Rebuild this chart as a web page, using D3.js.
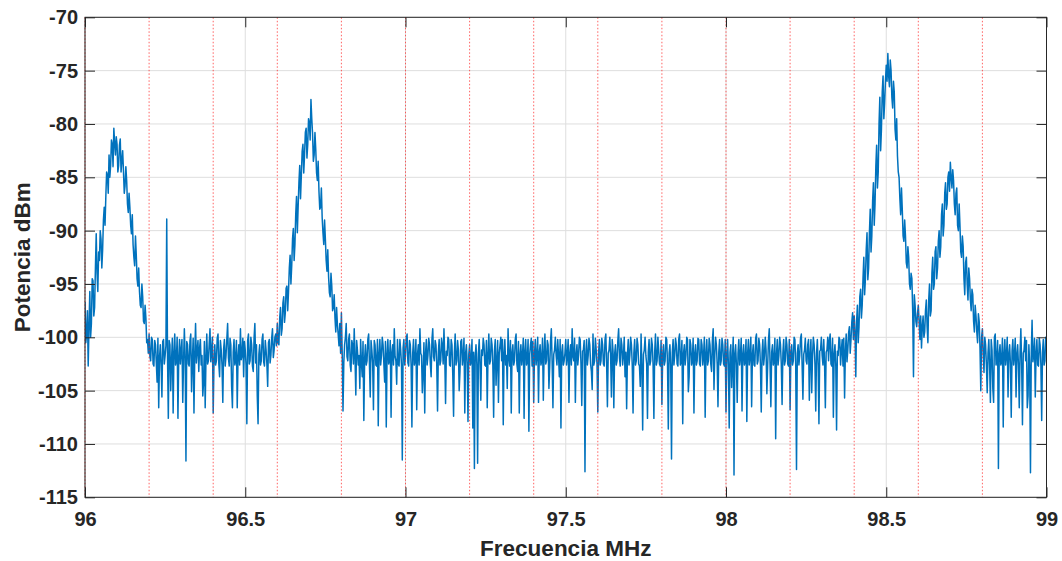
<!DOCTYPE html>
<html><head><meta charset="utf-8">
<script src="https://cdn.jsdelivr.net/npm/d3@7"></script>
<style>body{margin:0;background:#fff}svg{display:block}</style>
</head><body><svg id="chart" width="1062" height="561"></svg>
<script>
// ---- data ----
const freqStartMHz = 96;
const freqStepMHz = 0.005;
// samples at 96.000, 96.005, ... 99.000 MHz
const powerDbm = [
 -96.7,-99.7,-102.7,-95.7,-98.7,-94.7,-97.2,-90.3,-95.7,-92.8,-90.8,-91.8,-87.8,-86.8,-84.8,-82.9,-83.9,-81.9,-80.4,-82.9,
 -81.9,-83.9,-81.4,-83.4,-84.4,-85.8,-85.3,-88.3,-87.8,-90.3,-91.3,-93.3,-92.3,-95.2,-95.7,-97.2,-96.2,-98.7,-98.2,-100.2,
 -99.7,-102.2,-100.2,-102.7,-100.7,-104.2,-106.6,-100.7,-105.6,-100.2,-101.7,-88.9,-107.6,-100.7,-102.2,-107.1,-99.7,-102.2,-107.6,-100.2,
 -101.2,-106.1,-99.2,-111.6,-100.7,-102.7,-99.7,-102.2,-107.1,-98.7,-101.2,-103.2,-100.2,-101.7,-104.2,-106.6,-99.7,-102.2,-99.2,-101.2,
 -107.1,-100.7,-102.2,-99.7,-103.7,-101.2,-106.1,-100.2,-101.7,-98.7,-102.7,-100.7,-106.6,-100.2,-102.2,-106.6,-100.7,-99.2,-101.7,-103.7,
 -101.2,-108.1,-99.7,-102.2,-100.7,-103.2,-98.7,-100.7,-108.1,-100.7,-102.2,-99.7,-102.7,-101.2,-104.6,-100.2,-101.7,-99.2,-101.2,-99.7,
 -98.7,-100.7,-97.2,-99.2,-96.2,-97.7,-95.2,-95.7,-92.3,-93.3,-89.8,-91.3,-86.8,-87.8,-83.9,-84.8,-81.9,-82.9,-80.4,-81.9,
 -79.9,-77.7,-80.9,-82.9,-82.4,-85.3,-86.3,-87.8,-88.8,-91.3,-90.8,-93.8,-94.3,-96.2,-95.2,-97.2,-98.2,-97.2,-99.7,-98.7,
 -97.7,-106.9,-100.7,-98.7,-102.2,-99.7,-103.2,-100.7,-99.2,-105.4,-101.2,-101.7,-100.2,-103.7,-107.8,-100.7,-102.2,-99.7,-105.6,-101.2,
 -106.8,-100.7,-102.7,-108.3,-100.2,-101.7,-100.7,-104.2,-108.4,-100.2,-102.2,-107.5,-100.7,-99.2,-102.2,-100.2,-102.7,-101.2,-111.5,-100.2,
 -101.7,-99.7,-102.7,-100.7,-108.4,-100.2,-102.2,-106.8,-100.7,-99.2,-101.7,-103.2,-107.1,-100.2,-101.7,-100.7,-103.7,-99.2,-102.2,-100.7,
 -106.9,-100.2,-102.2,-100.7,-99.2,-106.2,-101.7,-100.2,-102.7,-100.7,-107.4,-99.7,-102.2,-101.2,-103.2,-100.2,-101.7,-107.1,-100.7,-107.9,
 -100.7,-102.2,-108.5,-112.3,-100.7,-111.8,-100.2,-105.9,-101.7,-100.7,-102.7,-106.6,-99.7,-102.2,-100.7,-107.5,-100.2,-102.2,-106.1,-100.7,
 -102.2,-108.2,-100.2,-101.7,-99.2,-102.7,-107.1,-100.7,-102.2,-99.7,-103.2,-107.1,-100.7,-101.7,-107.6,-100.2,-102.2,-108.8,-100.7,-102.7,
 -106.1,-100.2,-101.7,-106.1,-100.7,-102.2,-105.9,-99.7,-102.2,-100.7,-102.7,-99.2,-106.6,-101.2,-101.7,-100.2,-103.7,-108.5,-100.7,-102.2,
 -100.2,-101.7,-106.1,-100.7,-99.2,-102.2,-106.1,-100.7,-101.7,-100.2,-106.4,-101.2,-112.6,-100.2,-101.7,-100.7,-103.2,-99.7,-102.2,-101.2,
 -107.0,-100.2,-102.2,-100.7,-102.7,-99.7,-106.5,-101.2,-101.7,-100.2,-106.6,-100.7,-102.2,-99.2,-102.7,-100.7,-101.7,-103.7,-106.7,-100.2,
 -101.7,-100.7,-107.1,-100.2,-102.2,-100.7,-102.7,-99.7,-108.7,-101.2,-101.7,-107.6,-100.2,-102.2,-100.7,-107.6,-99.7,-102.2,-101.2,-102.7,
 -106.3,-100.7,-102.2,-100.2,-108.6,-100.7,-111.4,-100.2,-101.7,-100.7,-102.7,-99.7,-102.2,-108.1,-100.7,-101.7,-100.2,-103.7,-100.7,-102.2,
 -107.1,-100.7,-102.2,-100.2,-102.7,-100.7,-101.7,-107.5,-100.2,-102.2,-100.7,-103.2,-99.2,-101.7,-100.7,-106.5,-100.2,-102.2,-100.7,-102.7,
 -107.0,-100.2,-108.5,-100.7,-102.2,-112.9,-100.7,-106.1,-100.2,-101.7,-106.9,-100.7,-102.2,-107.9,-100.2,-101.7,-106.5,-100.7,-102.7,-99.7,
 -102.2,-100.7,-107.0,-100.2,-101.7,-101.2,-102.7,-99.2,-106.5,-100.7,-102.2,-109.5,-100.2,-101.7,-100.7,-106.3,-100.2,-102.2,-100.7,-102.7,
 -106.8,-100.7,-102.2,-100.2,-112.4,-100.7,-101.7,-99.7,-105.8,-101.2,-102.2,-100.7,-105.9,-100.2,-101.7,-100.7,-106.9,-100.2,-108.1,-101.2,
 -101.7,-100.2,-106.6,-101.2,-102.2,-99.7,-102.7,-107.5,-100.7,-108.7,-101.7,-100.2,-101.2,-102.7,-105.7,-99.7,-101.2,-99.0,-100.2,-97.7,
 -98,-103.7,-97,-99,-95.5,-97,-92.5,-94.5,-90.2,-93.5,-88,-90.5,-85.5,-87.5,-82,-84.5,-77.5,-80.5,-75.5,-78,
 -74.5,-73.4,-76.5,-75,-78.5,-77,-81.5,-83,-85,-88.5,-88,-91,-90.5,-93.5,-92.5,-95.5,-94.5,-103.7,-97,-99,
 -97,-100.2,-101,-98,-99.5,-96.5,-100.5,-95,-97.5,-92.5,-95,-91.5,-93.5,-90,-91.5,-87.5,-89.5,-85.5,-87.5,-84.5,
 -83.6,-86,-85.3,-88.5,-86,-90,-89.5,-92.5,-91.5,-96,-92.5,-96.5,-94.5,-97.5,-96,-99.5,-98,-100.5,-98.5,-105,
 -99.2,-103.3,-100.7,-105.2,-100.2,-106.1,-101.2,-106.1,-99.7,-102.2,-112.3,-100.7,-102.2,-108.4,-100.2,-101.7,-105.6,-100.7,-107.5,-100.2,
 -101.7,-105.6,-100.7,-106.6,-99.2,-108.2,-101.2,-102.2,-106.6,-100.7,-112.7,-98.4,-101.7,-105.6,-100.2,-102.7,-100.7,-107.8,-100.2,-102.2,
 -101.2
];
// samples at 96.0025, 96.0075, ... 98.9975 MHz (between the ones above)
const powerDbmOffset = [
 -100.5,-97.5,-99,-100,-94.5,-98,-93.5,-94,-92,-90,-93.5,-89,-89.5,-84.5,-86.5,-85,-81.5,-84,-81.8,-81.2,
 -84.5,-82,-84.5,-82.5,-86.5,-84,-87.5,-86.5,-89.5,-88.5,-92.5,-90.5,-94.5,-93.5,-97,-95,-98.5,-97,-100.5,-101.5,
 -101.8,-100.0,-102.5,-100.3,-102.4,-100.1,-101.9,-102.6,-100.4,-102.5,-100.8,-101.9,-100.3,-105.0,-100.1,-101.5,-102.6,-100.0,-101.9,-102.5,
 -100.2,-102.3,-101.8,-100.4,-102.5,-100.3,-105.1,-100.1,-101.6,-102.4,-100.3,-101.0,-102.6,-105.5,-100.4,-101.9,-102.5,-100.6,-102.3,-100.0,
 -102.2,-102.6,-100.1,-102.5,-100.3,-102.6,-101.1,-102.7,-100.2,-101.9,-100.1,-104.6,-101.4,-102.6,-100.3,-101.8,-102.6,-102.1,-100.1,-100.4,
 -102.6,-100.3,-102.5,-100.0,-102.7,-100.1,-102.4,-105.5,-101.6,-102.6,-100.2,-102.3,-100.3,-102.5,-100.5,-102.4,-100.1,-101.9,-100.0,-100.8,
 -100.5,-98.2,-99.8,-96.8,-98.6,-95.4,-97.5,-93.5,-95.0,-90.8,-92.8,-88.5,-90.2,-85.5,-87.0,-82.6,-84.6,-80.8,-83.2,-79.5,
 -81.5,-79.5,-83.5,-80.8,-84.6,-83.5,-88.0,-86.0,-90.2,-89.0,-92.8,-91.8,-95.8,-94.0,-97.5,-96.0,-99.5,-98.8,-100.8,-101.5,
 -101.5,-102.4,-100.0,-101.8,-100.2,-102.6,-100.3,-102.5,-101.9,-100.3,-102.6,-104.8,-102.4,-100.4,-102.0,-102.6,-100.2,-102.5,-100.3,-102.4,
 -100.3,-102.6,-100.2,-101.5,-102.6,-100.0,-102.5,-100.4,-101.6,-102.5,-100.3,-101.4,-102.6,-101.8,-104.4,-102.5,-100.2,-102.6,-101.0,-102.6,
 -100.1,-102.4,-100.3,-102.6,-101.5,-102.6,-100.2,-101.6,-102.6,-101.5,-105.2,-100.5,-101.5,-102.6,-100.1,-102.5,-100.2,-101.8,-100.3,-102.5,
 -101.4,-102.6,-100.1,-102.5,-101.8,-101.3,-100.0,-102.6,-100.2,-103.5,-101.5,-102.6,-100.3,-105.0,-100.4,-102.6,-100.1,-101.5,-102.4,-101.6,
 -102.6,-100.2,-101.4,-101.8,-102.5,-101.5,-102.6,-101.2,-100.1,-102.6,-100.3,-101.6,-102.5,-100.1,-102.6,-101.3,-104.5,-100.3,-101.5,-100.0,
 -100.2,-101.5,-102.6,-104.8,-101.9,-100.3,-101.4,-102.6,-100.2,-102.5,-100.4,-101.6,-102.6,-100.1,-101.3,-102.6,-100.2,-101.6,-100.1,-100.4,
 -101.6,-102.6,-100.0,-101.4,-102.6,-100.1,-101.5,-102.5,-100.3,-104.8,-100.4,-102.3,-101.6,-100.0,-102.6,-101.7,-100.2,-101.4,-102.6,-101.5,
 -102.6,-100.2,-101.5,-102.6,-101.8,-100.1,-101.6,-102.6,-100.0,-102.5,-101.3,-100.3,-101.6,-102.6,-100.1,-102.5,-104.9,-102.6,-100.1,-102.5,
 -101.4,-102.6,-100.1,-102.5,-100.2,-102.4,-101.5,-100.0,-105.6,-101.3,-101.6,-102.6,-100.3,-101.9,-100.1,-102.6,-100.0,-101.4,-101.6,-102.6,
 -100.0,-102.6,-101.5,-102.6,-100.1,-102.5,-104.6,-102.6,-101.6,-100.0,-102.5,-101.4,-102.6,-100.1,-102.6,-101.4,-102.6,-100.0,-102.5,-100.3,
 -101.6,-102.6,-100.0,-102.5,-101.5,-102.6,-101.4,-102.6,-100.1,-102.5,-100.2,-102.6,-100.3,-101.5,-102.6,-100.0,-105.1,-100.2,-102.6,-100.1,
 -101.5,-102.6,-100.1,-102.5,-100.2,-102.6,-100.0,-101.5,-102.6,-100.1,-102.5,-100.3,-104.9,-100.0,-102.5,-101.4,-102.6,-100.1,-102.5,-100.2,
 -101.6,-102.6,-101.4,-104.7,-100.0,-101.5,-102.6,-101.5,-102.6,-100.1,-101.6,-102.6,-100.2,-101.5,-102.6,-100.0,-101.6,-102.6,-100.1,-102.5,
 -100.1,-102.6,-101.5,-102.6,-100.0,-105.3,-100.3,-102.6,-101.4,-102.6,-100.1,-101.6,-102.6,-100.0,-102.5,-101.5,-102.6,-100.0,-102.5,-100.2,
 -101.4,-102.6,-100.0,-102.6,-101.5,-102.6,-100.1,-102.6,-101.6,-100.1,-102.5,-100.2,-101.6,-105.2,-100.0,-102.5,-101.5,-102.6,-101.3,-100.0,
 -102.6,-102.4,-101.4,-100.0,-100.3,-102.5,-100.1,-101.6,-102.6,-101.3,-100.0,-102.6,-100.2,-100.1,-101.4,-102.3,-99.6,-101.5,-98.6,-100.2,
 -99.5,-98.5,-100.5,-96.2,-98.2,-94.5,-96.0,-91.8,-94.6,-90.2,-92.0,-87.2,-89.5,-84.0,-86.0,-80.0,-82.5,-77.0,-79.5,-76.0,
 -76.0,-75.5,-74.0,-77.5,-76.0,-80.5,-79.5,-84.5,-87.0,-86.0,-90.5,-89.0,-93.0,-91.5,-95.0,-94.0,-97.5,-96.0,-98.5,-97.8,
 -98.5,-98.0,-99.0,-100.0,-97.5,-99.0,-96.5,-98.0,-94.0,-95.5,-92.0,-94.5,-91.0,-92.5,-88.5,-90.5,-86.5,-88.0,-85.0,-86.3,
 -85.0,-84.3,-87.5,-86.5,-89.5,-87.5,-92.0,-90.5,-94.5,-93.0,-95.0,-93.5,-96.5,-95.5,-98.5,-97.0,-99.5,-97.8,-101.0,-100.0,
 -101.5,-100.0,-102.6,-101.5,-102.6,-100.2,-104.8,-100.0,-102.6,-100.3,-101.5,-102.6,-100.1,-101.5,-102.6,-100.0,-101.6,-102.5,-101.3,-102.6,
 -100.1,-101.6,-102.6,-101.4,-102.5,-101.5,-100.0,-100.3,-105.5,-102.6,-101.5,-102.3,-100.1,-101.5,-102.6,-100.1,-102.6,-101.4,-102.6,-100.0
];
const xTickValues = [96, 96.5, 97, 97.5, 98, 98.5, 99];
const yTickValues = [-115, -110, -105, -100, -95, -90, -85, -80, -75, -70];
const markerFreqs = [96, 96.2, 96.4, 96.6, 96.8, 97, 97.2, 97.4, 97.6, 97.8, 98, 98.2, 98.4, 98.6, 98.8];
const xLabelText = "Frecuencia MHz";
const yLabelText = "Potencia dBm";

// ---- layout ----
const plot = {left: 85, right: 1046.5, top: 17.3, bottom: 497.3};
const ink = "#262626";
const fontFamily = "'Liberation Sans', Arial, Helvetica, sans-serif";
const svg = d3.select("#chart");

const x = d3.scaleLinear().domain([96, 99]).range([plot.left, plot.right]);
const y = d3.scaleLinear().domain([-115, -70]).range([plot.bottom, plot.top]);

// grid
const grid = svg.append("g");
grid.selectAll("line.gx").data(xTickValues).join("line").attr("class", "gx")
  .attr("x1", d => x(d)).attr("x2", d => x(d)).attr("y1", plot.top).attr("y2", plot.bottom)
  .attr("stroke", "#dedede").attr("stroke-width", 1);
grid.selectAll("line.gy").data(yTickValues).join("line").attr("class", "gy")
  .attr("y1", d => y(d)).attr("y2", d => y(d)).attr("x1", plot.left).attr("x2", plot.right)
  .attr("stroke", "#dedede").attr("stroke-width", 1);

// clip
svg.append("clipPath").attr("id", "plotclip").append("rect")
  .attr("x", plot.left).attr("y", plot.top)
  .attr("width", plot.right - plot.left).attr("height", plot.bottom - plot.top);

// spectrum trace: merge both sample sets in frequency order
const points = [];
powerDbm.forEach((v, i) => {
  points.push({f: freqStartMHz + i * freqStepMHz, v});
  if (i < powerDbmOffset.length)
    points.push({f: freqStartMHz + (i + 0.5) * freqStepMHz, v: powerDbmOffset[i]});
});
points.sort((a, b) => a.f - b.f);
svg.append("path").datum(points)
  .attr("clip-path", "url(#plotclip)")
  .attr("fill", "none").attr("stroke", "#0072BD").attr("stroke-width", 1.5)
  .attr("stroke-linejoin", "round")
  .attr("d", d3.line().x(d => x(d.f)).y(d => y(d.v)));

// red dotted channel markers
svg.append("g").selectAll("line").data(markerFreqs).join("line")
  .attr("x1", d => x(d)).attr("x2", d => x(d)).attr("y1", plot.top).attr("y2", plot.bottom)
  .attr("stroke", "#ff2020").attr("stroke-opacity", 0.7).attr("stroke-width", 1)
  .attr("stroke-dasharray", "1.5,2");

// axes
function styleAxis(g) {
  g.select(".domain").remove();
  g.selectAll(".tick line").attr("stroke", ink).attr("stroke-width", 1);
  g.selectAll(".tick text").attr("fill", ink)
    .style("font-family", fontFamily).style("font-weight", "bold").style("font-size", "20px");
}
svg.append("g").attr("transform", `translate(0,${plot.bottom})`)
  .call(d3.axisBottom(x).tickValues(xTickValues).tickSizeInner(-10).tickSizeOuter(0)
        .tickPadding(15).tickFormat(d => String(d)))
  .call(styleAxis);
svg.append("g").attr("transform", `translate(0,${plot.top})`)
  .call(d3.axisTop(x).tickValues(xTickValues).tickSizeInner(-10).tickSizeOuter(0).tickFormat(""))
  .call(styleAxis);
svg.append("g").attr("transform", `translate(${plot.left},0)`)
  .call(d3.axisLeft(y).tickValues(yTickValues).tickSizeInner(-10).tickSizeOuter(0)
        .tickPadding(7).tickFormat(d => String(d)))
  .call(styleAxis);
svg.append("g").attr("transform", `translate(${plot.right},0)`)
  .call(d3.axisRight(y).tickValues(yTickValues).tickSizeInner(-10).tickSizeOuter(0).tickFormat(""))
  .call(styleAxis);

// box
svg.append("rect").attr("x", plot.left).attr("y", plot.top)
  .attr("width", plot.right - plot.left).attr("height", plot.bottom - plot.top)
  .attr("fill", "none").attr("stroke", ink).attr("stroke-width", 1);

// labels
svg.append("text").attr("x", (plot.left + plot.right) / 2).attr("y", 556)
  .attr("text-anchor", "middle").attr("fill", ink)
  .style("font-family", fontFamily).style("font-weight", "bold").style("font-size", "22.5px")
  .text(xLabelText);
svg.append("text").attr("transform", `translate(30,${(plot.top + plot.bottom) / 2}) rotate(-90)`)
  .attr("text-anchor", "middle").attr("fill", ink)
  .style("font-family", fontFamily).style("font-weight", "bold").style("font-size", "22.5px")
  .text(yLabelText);
</script></body></html>
